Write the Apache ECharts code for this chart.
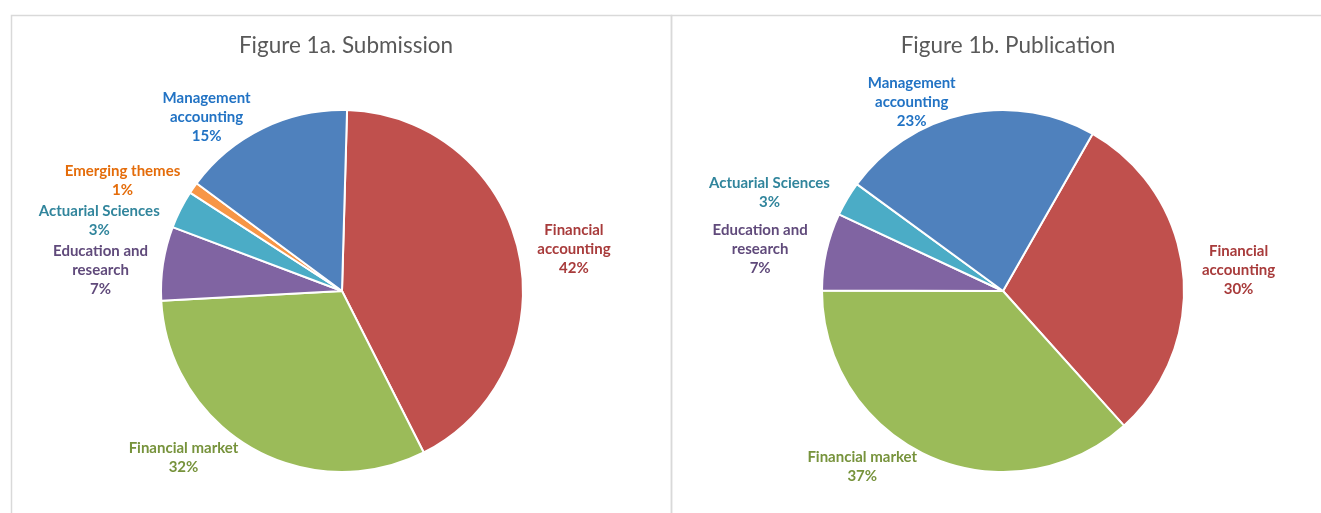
<!DOCTYPE html>
<html>
<head>
<meta charset="utf-8">
<script src="https://cdn.jsdelivr.net/npm/echarts@6/dist/echarts.min.js"></script>
<style>
html,body{margin:0;padding:0;background:#fff;}
#chart{width:1321px;height:513px;}
</style>
</head>
<body>
<div id="chart"></div>
<script>
// Data
const titles = ['Figure 1a. Submission', 'Figure 1b. Publication'];
const subCategories = ['Financial\naccounting', 'Financial market', 'Education and\nresearch', 'Actuarial Sciences', 'Emerging themes', 'Management\naccounting'];
const subValues = [42.1, 31.6, 6.6, 3.4, 1.0, 15.3];
const pubCategories = ['Financial\naccounting', 'Financial market', 'Education and\nresearch', 'Actuarial Sciences', 'Management\naccounting'];
const pubValues = [30.1, 36.7, 6.9, 3.1, 23.2];

const sliceColors = {
  'Financial\naccounting': '#C0504D',
  'Financial market': '#9BBB59',
  'Education and\nresearch': '#8064A2',
  'Actuarial Sciences': '#4BACC6',
  'Emerging themes': '#F79646',
  'Management\naccounting': '#4F81BD'
};
const labelColors = {
  'Financial\naccounting': '#A83B3B',
  'Financial market': '#77933C',
  'Education and\nresearch': '#604A7B',
  'Actuarial Sciences': '#31859C',
  'Emerging themes': '#E46C0A',
  'Management\naccounting': '#2273C4'
};

function buildData(cats, vals) {
  return cats.map((c, i) => ({
    name: c,
    value: vals[i],
    itemStyle: { color: sliceColors[c] },
    label: { color: labelColors[c] }
  }));
}

function centerLabel(params) {
  const r = params.labelRect;
  return {
    x: r.x + r.width / 2,
    y: r.y + r.height / 2,
    align: 'center',
    verticalAlign: 'middle'
  };
}

function pieSeries(cats, vals, center, startAngle) {
  return {
    type: 'pie',
    center: center,
    radius: 181,
    startAngle: startAngle,
    clockwise: true,
    percentPrecision: 0,
    avoidLabelOverlap: true,
    animation: false,
    itemStyle: { borderColor: '#ffffff', borderWidth: 2 },
    label: {
      show: true,
      position: 'outside',
      formatter: '{b}\n{d}%',
      fontFamily: 'Lato',
      fontWeight: 'bold',
      fontSize: 15,
      lineHeight: 19
    },
    labelLine: { show: false, length: 12, length2: 2 },
    labelLayout: centerLabel,
    emphasis: { disabled: true },
    data: buildData(cats, vals)
  };
}

const chart = echarts.init(document.getElementById('chart'), null, { renderer: 'canvas' });
chart.setOption({
  backgroundColor: '#ffffff',
  animation: false,
  title: [
    { text: titles[0], left: 341, top: 29, textAlign: 'center',
      textStyle: { fontFamily: 'Lato', fontWeight: 'normal', fontSize: 22.5, color: '#595959' } },
    { text: titles[1], left: 1003, top: 29, textAlign: 'center',
      textStyle: { fontFamily: 'Lato', fontWeight: 'normal', fontSize: 22.5, color: '#595959' } }
  ],
  graphic: [
    { type: 'rect', silent: true, shape: { x: 11.5, y: 15.5, width: 660, height: 520 },
      style: { fill: 'none', stroke: '#d9d9d9', lineWidth: 1.5 } },
    { type: 'rect', silent: true, shape: { x: 671.5, y: 15.5, width: 700, height: 520 },
      style: { fill: 'none', stroke: '#d9d9d9', lineWidth: 1.5 } }
  ],
  series: [
    pieSeries(subCategories, subValues, [342, 291], 88.4),
    pieSeries(pubCategories, pubValues, [1003, 291], 60.3)
  ]
});
</script>
</body>
</html>
